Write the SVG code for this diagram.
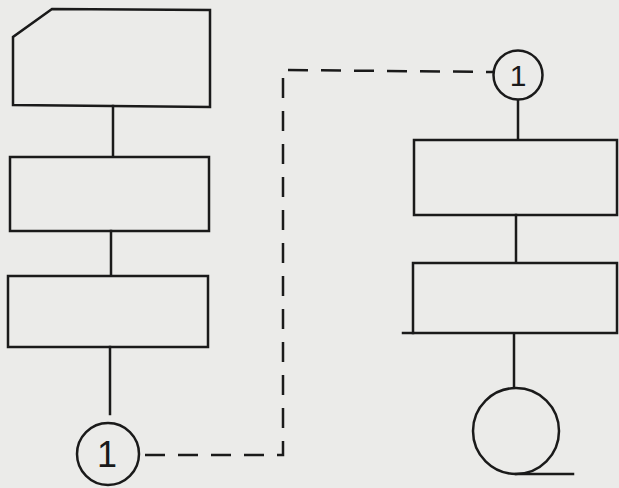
<svg xmlns="http://www.w3.org/2000/svg" width="619" height="488" viewBox="0 0 619 488">
<style>
.s{fill:none;stroke:#1a1a1a;stroke-width:2.5;stroke-linecap:square}
.d{fill:none;stroke:#1a1a1a;stroke-width:2.5;stroke-dasharray:20 13}
.t{font-family:"Liberation Sans",Arial,sans-serif;fill:#1a1a1a;text-anchor:middle}
</style>
<rect width="619" height="488" fill="#ebebe9"/>
<g id="connectors">
<line class="s" x1="113" y1="106" x2="113" y2="155"/>
<line class="s" x1="111" y1="231" x2="111" y2="274"/>
<line class="s" x1="110" y1="347" x2="110" y2="414"/>
<polyline class="d" points="145,455 283,455 283,70 493,72"/>
<line class="s" x1="518" y1="101" x2="518" y2="138"/>
<line class="s" x1="516" y1="215" x2="516" y2="261"/>
<line class="s" x1="514" y1="335" x2="514" y2="386"/>
</g>
<g id="card1">
<path class="s" d="M52,9 L210,10 L210,107 L13,105 L13,37 Z"/>
</g>
<g id="process1">
<rect class="s" x="10" y="157" width="199" height="74"/>
</g>
<g id="process2">
<rect class="s" x="8" y="276" width="200" height="71"/>
</g>
<g id="connector-left">
<circle class="s" cx="108" cy="454" r="31"/>
<text class="t" x="107" y="467" font-size="36">1</text>
</g>
<g id="connector-right">
<circle class="s" cx="518" cy="75" r="24.5"/>
<text class="t" x="518" y="86" font-size="30">1</text>
</g>
<g id="process3">
<rect class="s" x="414" y="140" width="203" height="75"/>
</g>
<g id="process4">
<rect class="s" x="413" y="263" width="204" height="70"/>
<line class="s" x1="403" y1="333" x2="413" y2="333"/>
</g>
<g id="tape">
<circle class="s" cx="516" cy="431" r="43"/>
<line class="s" x1="516" y1="474" x2="573" y2="474"/>
</g>
</svg>
